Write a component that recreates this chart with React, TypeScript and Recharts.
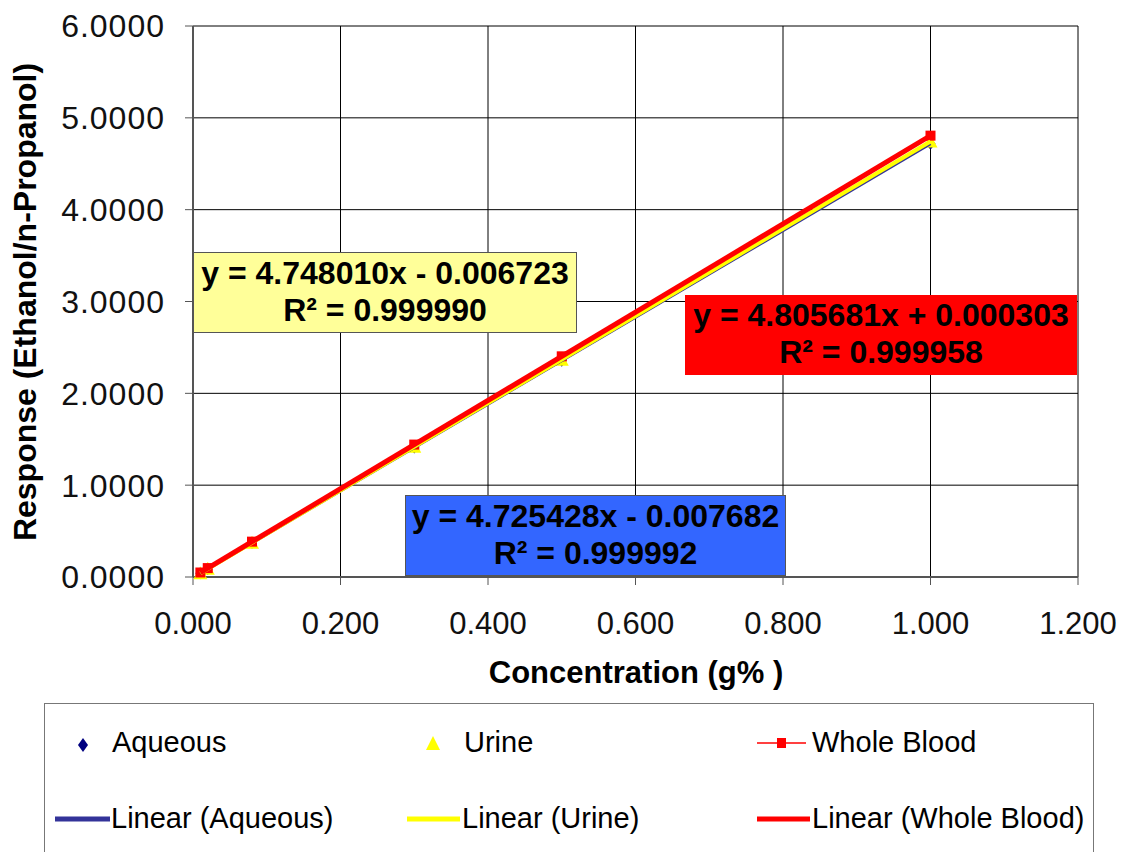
import React from "react";
import {
  CartesianGrid,
  ComposedChart,
  Label,
  Scatter,
  XAxis,
  YAxis,
} from "recharts";

const FONT = "Arial, 'Liberation Sans', sans-serif";

const concentrations = [0.01, 0.02, 0.08, 0.3, 0.5, 1.0];
const aqueous = [0.04, 0.088, 0.372, 1.41, 2.356, 4.718];
const urine = [0.041, 0.089, 0.373, 1.418, 2.367, 4.741];
const wholeBlood = [0.049, 0.097, 0.385, 1.442, 2.403, 4.806];

// trendline end points (x range of the data)
const trendX = [0.01, 1.0];
const aqueousTrend = [0.0396, 4.7177];
const urineTrend = [0.0408, 4.7413];
const bloodTrend = [0.0484, 4.806];

const xTicks = [0, 0.2, 0.4, 0.6, 0.8, 1.0, 1.2];
const yTicks = [0, 1, 2, 3, 4, 5, 6];

const toPoints = (xs: number[], ys: number[]) =>
  xs.map((x, i) => ({ x, y: ys[i] }));

const Diamond = (p: any) => (
  <path
    d={`M${p.cx},${p.cy - 6} L${p.cx + 5},${p.cy} L${p.cx},${p.cy + 6} L${p.cx - 5},${p.cy} Z`}
    fill="#000080"
  />
);
const Triangle = (p: any) => (
  <path
    d={`M${p.cx},${p.cy - 7} L${p.cx + 7},${p.cy + 6} L${p.cx - 7},${p.cy + 6} Z`}
    fill="#FFFF00"
  />
);
const Square = (p: any) => (
  <rect x={p.cx - 5} y={p.cy - 5} width={10} height={10} fill="#FF0000" />
);
const NoShape = () => <g />;

const boxText: React.CSSProperties = {
  position: "absolute",
  fontFamily: FONT,
  fontWeight: "bold",
  fontSize: 32,
  lineHeight: "37px",
  textAlign: "center",
  color: "#000",
  boxSizing: "border-box",
  paddingTop: 2,
};

const legendText: React.CSSProperties = {
  position: "absolute",
  fontFamily: FONT,
  fontSize: 29,
  lineHeight: "34px",
  color: "#000",
  whiteSpace: "nowrap",
};

export default function App() {
  return (
    <div
      style={{
        position: "absolute",
        left: 0,
        top: 0,
        width: 1124,
        height: 852,
        background: "#fff",
        overflow: "hidden",
      }}
    >
      <ComposedChart
        width={1124}
        height={852}
        margin={{ top: 26, right: 46, bottom: 175, left: 0 }}
      >
        <CartesianGrid stroke="#000" strokeWidth={1} />
        <XAxis
          type="number"
          dataKey="x"
          domain={[0, 1.2]}
          ticks={xTicks}
          tickFormatter={(v: number) => v.toFixed(3)}
          height={100}
          tickSize={8}
          tickMargin={27}
          axisLine={{ stroke: "#555", strokeWidth: 2 }}
          tickLine={{ stroke: "#555" }}
          tick={{ fontSize: 31, fill: "#111", fontFamily: FONT }}
        >
          <Label
            content={() => (
              <text
                x={636}
                y={683}
                textAnchor="middle"
                fontFamily={FONT}
                fontWeight="bold"
                fontSize={31}
                fill="#000"
              >
                Concentration (g% )
              </text>
            )}
          />
        </XAxis>
        <YAxis
          type="number"
          dataKey="y"
          domain={[0, 6]}
          ticks={yTicks}
          tickFormatter={(v: number) => v.toFixed(4)}
          width={193}
          tickSize={8}
          tickMargin={20}
          axisLine={{ stroke: "#555", strokeWidth: 2 }}
          tickLine={{ stroke: "#555" }}
          tick={{ fontSize: 32, fill: "#111", fontFamily: FONT, letterSpacing: 1 }}
        >
          <Label
            content={() => (
              <text
                x={36}
                y={302}
                transform="rotate(-90 36 302)"
                textAnchor="middle"
                fontFamily={FONT}
                fontWeight="bold"
                fontSize={32}
                fill="#000"
              >
                Response (Ethanol/n-Propanol)
              </text>
            )}
          />
        </YAxis>
        <Scatter
          name="Aqueous"
          data={toPoints(concentrations, aqueous)}
          shape={Diamond}
          isAnimationActive={false}
        />
        <Scatter
          name="Urine"
          data={toPoints(concentrations, urine)}
          shape={Triangle}
          isAnimationActive={false}
        />
        <Scatter
          name="Whole Blood"
          data={toPoints(concentrations, wholeBlood)}
          shape={Square}
          isAnimationActive={false}
        />
        <Scatter
          name="Linear (Aqueous)"
          data={toPoints(trendX, aqueousTrend)}
          fill="#333399"
          line={{ stroke: "#333399", strokeWidth: 3 }}
          shape={NoShape}
          isAnimationActive={false}
        />
        <Scatter
          name="Linear (Urine)"
          data={toPoints(trendX, urineTrend)}
          fill="#FFFF00"
          line={{ stroke: "#FFFF00", strokeWidth: 4 }}
          shape={NoShape}
          isAnimationActive={false}
        />
        <Scatter
          name="Linear (Whole Blood)"
          data={toPoints(trendX, bloodTrend)}
          fill="#FF0000"
          line={{ stroke: "#FF0000", strokeWidth: 5 }}
          shape={NoShape}
          isAnimationActive={false}
        />
      </ComposedChart>

      {/* trendline equations */}
      <div
        style={{
          ...boxText,
          left: 193,
          top: 252,
          width: 384,
          height: 81,
          background: "#FFFF99",
          border: "1px solid #555",
        }}
      >
        y = 4.748010x - 0.006723
        <br />
        R² = 0.999990
      </div>
      <div
        style={{
          ...boxText,
          left: 685,
          top: 295,
          width: 392,
          height: 80,
          background: "#FF0000",
        }}
      >
        y = 4.805681x + 0.000303
        <br />
        R² = 0.999958
      </div>
      <div
        style={{
          ...boxText,
          left: 405,
          top: 495,
          width: 381,
          height: 81,
          background: "#3366FF",
          border: "1px solid #555",
        }}
      >
        y = 4.725428x - 0.007682
        <br />
        R² = 0.999992
      </div>

      {/* legend */}
      <div
        style={{
          position: "absolute",
          left: 44,
          top: 703,
          width: 1048,
          height: 170,
          border: "1px solid #777",
          background: "#fff",
        }}
      />
      <svg
        style={{ position: "absolute", left: 0, top: 0 }}
        width={1124}
        height={852}
      >
        <path d="M83,738 L88,745 L83,752 L78,745 Z" fill="#000080" />
        <path d="M433,736 L440,750 L426,750 Z" fill="#FFFF00" />
        <line x1={757} y1={743} x2={806} y2={743} stroke="#FF0000" strokeWidth={1.5} />
        <rect x={777} y={738} width={9} height={10} fill="#FF0000" />
        <line x1={55} y1={819} x2={110} y2={819} stroke="#333399" strokeWidth={5} />
        <line x1={407} y1={819} x2={460} y2={819} stroke="#FFFF00" strokeWidth={5} />
        <line x1={757} y1={819} x2={810} y2={819} stroke="#FF0000" strokeWidth={5} />
      </svg>
      <div style={{ ...legendText, left: 112, top: 725 }}>Aqueous</div>
      <div style={{ ...legendText, left: 464, top: 725 }}>Urine</div>
      <div style={{ ...legendText, left: 812, top: 725 }}>Whole Blood</div>
      <div style={{ ...legendText, left: 111, top: 801 }}>Linear (Aqueous)</div>
      <div style={{ ...legendText, left: 462, top: 801 }}>Linear (Urine)</div>
      <div style={{ ...legendText, left: 812, top: 801 }}>Linear (Whole Blood)</div>
    </div>
  );
}
